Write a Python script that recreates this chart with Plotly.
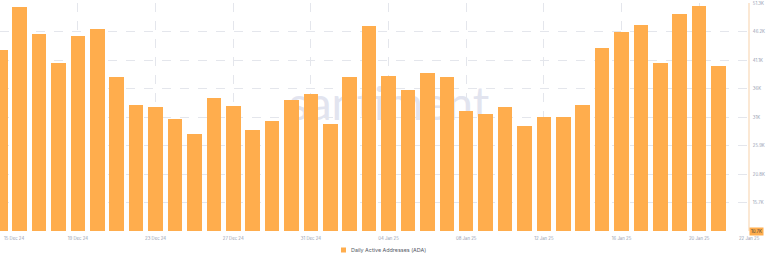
import pandas as pd
import plotly.graph_objects as go

# ---- data ----
dates = pd.date_range("2024-12-15", "2025-01-22", freq="D")
active_addresses_k = [
    42.9, 50.6, 45.7, 40.7, 45.5, 46.7, 38.2, 33.2, 32.8, 30.6,
    27.9, 34.3, 32.9, 28.7, 30.3, 34.1, 35.0, 29.7, 38.2, 47.2,
    38.3, 35.8, 38.9, 38.2, 32.0, 31.6, 32.8, 29.4, 30.9, 31.0,
    33.2, 43.2, 46.2, 47.4, 40.6, 49.3, 50.8, 40.1, 10.7,
]
y_min, y_max = 10.65, 51.31
y_tick_vals = [15.73, 20.81, 25.89, 30.97, 36.05, 41.13, 46.21, 51.29]
y_tick_text = ["15.7K", "20.8K", "25.9K", "31K", "36K", "41.1K", "46.2K", "51.3K"]
x_tick_dates = pd.date_range("2024-12-19", "2025-01-20", freq="4D")
x_tick_text = [d.strftime("%d %b %y") for d in x_tick_dates]
series_name = "Daily Active Addresses (ADA)"
last_label = "10.7K"

ORANGE = "#FFAD4D"
GRID = "#e4e6ec"
TICK_COL = "#939bb0"
TF = 4.3

fig = go.Figure()
fig.add_trace(go.Bar(
    x=dates, y=active_addresses_k, marker=dict(color=ORANGE, line=dict(width=0)),
    width=0.75 * 86400000, showlegend=False, name=series_name,
))

x_start = dates[0] - pd.Timedelta(days=0.015)
x_end = x_start + pd.Timedelta(days=38.53)

PW, PH, PB = 748.0, 228.0, 231.0  # plot width, height, bottom pixel


def px_x(p):
    return p / PW


def px_y(p):
    return (PB - p) / PH


fig.update_layout(
    width=768, height=260,
    margin=dict(l=0, r=20, t=3, b=29),
    paper_bgcolor="white", plot_bgcolor="white",
    font=dict(family="Inter, 'Open Sans', sans-serif"),
    bargap=0, showlegend=False,
    xaxis=dict(
        type="date", range=[x_start, x_end],
        tickvals=x_tick_dates, ticktext=x_tick_text,
        tickfont=dict(size=TF, color=TICK_COL),
        showgrid=True, gridcolor=GRID, griddash="dash", gridwidth=1,
        ticks="outside", ticklen=3, tickcolor="rgba(0,0,0,0)",
        showline=False, zeroline=False,
    ),
    yaxis=dict(
        side="right", range=[y_min, y_max],
        tickvals=y_tick_vals, ticktext=y_tick_text,
        tickfont=dict(size=TF, color=TICK_COL),
        showgrid=True, gridcolor=GRID, griddash="dash", gridwidth=1,
        ticks="", ticklabelstandoff=2,
        showline=True, linecolor="#fbe8d4", linewidth=2, zeroline=False,
    ),
    shapes=[
        dict(
            type="rect", xref="paper", yref="paper", x0=0.36, x1=0.68, y0=0.42, y1=0.72,
            line=dict(width=0), fillcolor="rgba(0,0,0,0)", layer="below",
            label=dict(text="santiment", textposition="middle center",
                       font=dict(size=46, color="#e2e4ef", family="Lato, sans-serif")),
        ),
        dict(
            type="rect", xref="paper", yref="paper",
            x0=px_x(341), x1=px_x(346), y0=px_y(252.5), y1=px_y(247.5),
            line=dict(width=0), fillcolor=ORANGE,
        ),
    ],
    annotations=[
        dict(text=series_name, x=px_x(348.5), xref="paper", y=px_y(250), yref="paper",
             xanchor="left", yanchor="middle", showarrow=False,
             font=dict(size=5.4, color="#555a66")),
        dict(text=dates[0].strftime("%d %b %y"), x=0.003, xref="paper", y=0, yref="paper",
             xanchor="left", yanchor="top", yshift=-3, showarrow=False,
             font=dict(size=TF, color=TICK_COL)),
        dict(text=dates[-1].strftime("%d %b %y"), x=dates[-1], xref="x", y=0, yref="paper",
             xanchor="left", yanchor="top", xshift=-1, yshift=-3, showarrow=False,
             font=dict(size=TF, color=TICK_COL)),
        dict(text=last_label, x=1, xref="paper", y=y_min, yref="y",
             xanchor="left", yanchor="middle", xshift=1, showarrow=False,
             bgcolor=ORANGE, borderpad=1,
             font=dict(size=TF, color="#3a3a3a")),
    ],
)

fig.write_html("out.html")
